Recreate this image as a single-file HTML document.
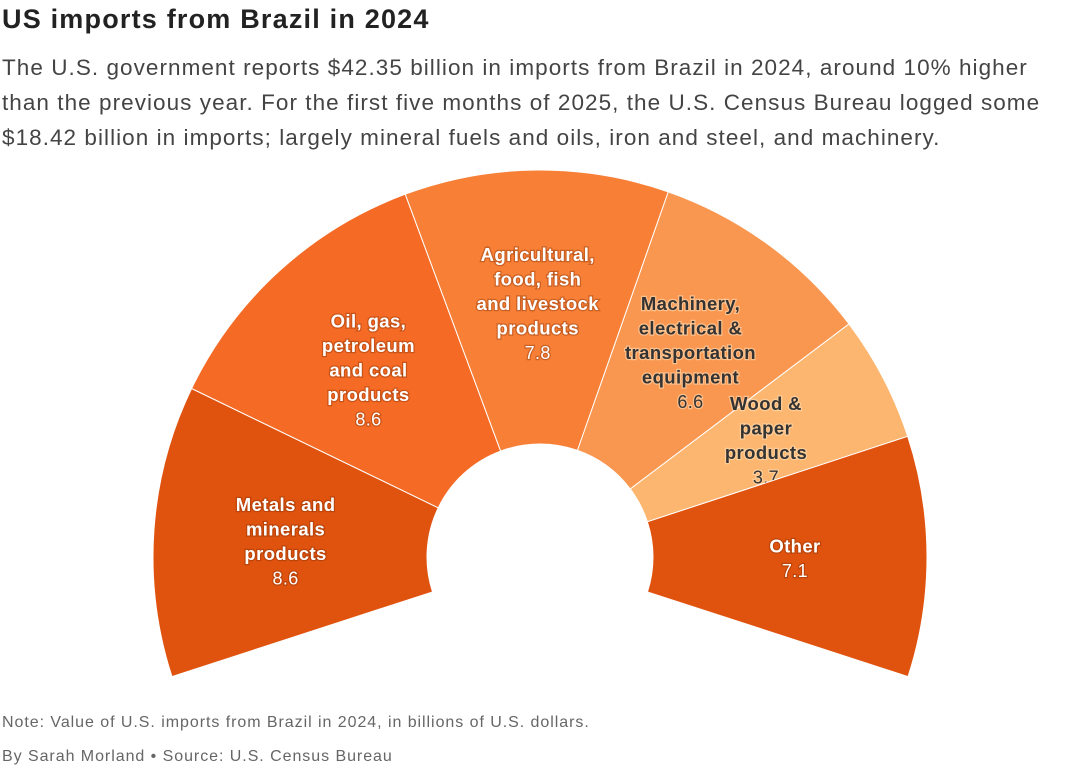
<!DOCTYPE html>
<html><head><meta charset="utf-8">
<style>
body{margin:0;width:1080px;height:767px;background:#fff;font-family:"Liberation Sans",sans-serif;overflow:hidden;position:relative}
#title{position:absolute;left:2px;top:4px;font-size:27px;font-weight:bold;color:#222;letter-spacing:1.2px}
#sub{position:absolute;left:2px;top:50px;width:1078px;font-size:22.5px;line-height:35px;color:#444;white-space:nowrap;letter-spacing:1.05px}
.note{position:absolute;left:2px;font-size:16px;color:#666;letter-spacing:0.95px}
svg{position:absolute;left:0;top:0}
</style></head><body>
<div id="title">US imports from Brazil in 2024</div>
<div id="sub">The U.S. government reports $42.35 billion in imports from Brazil in 2024, around 10% higher<br>than the previous year. For the first five months of 2025, the U.S. Census Bureau logged some<br>$18.42 billion in imports; largely mineral fuels and oils, iron and steel, and machinery.</div>
<svg id="chart" width="1080" height="767"></svg>
<div class="note" style="top:714px">Note: Value of U.S. imports from Brazil in 2024, in billions of U.S. dollars.</div>
<div class="note" style="top:748px">By Sarah Morland • Source: U.S. Census Bureau</div>
<script>
const categories=[["Metals and","minerals","products"],["Oil, gas,","petroleum","and coal","products"],["Agricultural,","food, fish","and livestock","products"],["Machinery,","electrical &","transportation","equipment"],["Wood &","paper","products"],["Other"]];
const values=[8.6,8.6,7.8,6.6,3.7,7.1];
const valueLabels=["8.6","8.6","7.8","6.6","3.7","7.1"];
const colors=["#e0530f","#f56a24","#f77f36","#f9964f","#fcb66f","#e0530f"];
const darkText=[false,false,false,true,true,false];
const svg=document.getElementById('chart');
const NS="http://www.w3.org/2000/svg";
const cx=540,cy=557,R=387,r0=113,startA=198,span=216;
const total=values.reduce((a,b)=>a+b,0);
function pt(a,rad){const t=a*Math.PI/180;return [cx+rad*Math.cos(t),cy-rad*Math.sin(t)];}
let a=startA;
values.forEach((v,i)=>{
  const a2=a-v/total*span;
  const p1=pt(a,R),p2=pt(a2,R),p3=pt(a2,r0),p4=pt(a,r0);
  const large=(a-a2)>180?1:0;
  const path=document.createElementNS(NS,'path');
  path.setAttribute('d',`M${p1[0]},${p1[1]} A${R},${R} 0 ${large} 1 ${p2[0]},${p2[1]} L${p3[0]},${p3[1]} A${r0},${r0} 0 ${large} 0 ${p4[0]},${p4[1]} Z`);
  path.setAttribute('fill',colors[i]);
  path.setAttribute('stroke','#fff');
  path.setAttribute('stroke-width','1');
  
  
  svg.appendChild(path);
  const mid=(a+a2)/2;const lp=pt(mid,255);
  const lines=categories[i];const n=lines.length+1;const lh=24.5;
  const y0=lp[1]-(n-1)*lh/2;
  const g=document.createElementNS(NS,'g');
  
  
  const dk=darkText[i];
  lines.concat([valueLabels[i]]).forEach((t,j)=>{
    const tx=document.createElementNS(NS,'text');
    tx.setAttribute('x',lp[0]);tx.setAttribute('y',y0+j*lh+8);
    tx.setAttribute('text-anchor','middle');
    const isVal=j===lines.length;
    tx.setAttribute('font-size',isVal?'18':'18.5');
    tx.setAttribute('font-weight',isVal?'normal':'bold');
    tx.setAttribute('letter-spacing','0.4');
    tx.setAttribute('fill',dk?'#333':'#fff');
    tx.setAttribute('stroke',dk?'rgba(255,220,180,0.6)':'rgba(120,40,0,0.35)');
    tx.setAttribute('stroke-width','2.5');
    tx.setAttribute('paint-order','stroke');
    tx.textContent=t;
    g.appendChild(tx);
  });
  svg.appendChild(g);
  a=a2;
});
</script>
</body></html>
